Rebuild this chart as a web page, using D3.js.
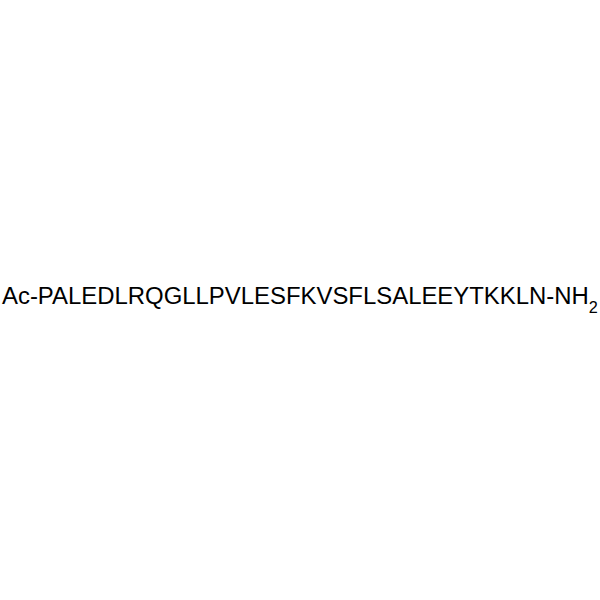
<!DOCTYPE html>
<html lang="en">
<head>
    <meta charset="UTF-8">
    <title>Peptide</title>
    <script src="https://d3js.org/d3.v7.min.js"></script>
    <style>
        body { margin: 0; background: #fff; }
        text { font-family: "Liberation Sans", Arial, sans-serif; fill: #000; }
    </style>
</head>
<body>
    <svg width="600" height="600"></svg>
    <script>
        // sequence parts
        const prefix = ["Ac"];
        const residues = "PALEDLRQGLLPVLESFKVSFLSALEEYTKKLN".split("");
        const suffix = ["NH"];
        const subscript = ["2"];

        const width = 600, height = 600;
        const svg = d3.select("svg");

        const mainText = prefix.join("") + "-" + residues.join("") + "-" + suffix.join("");
        const left = 2, right = 589, baseline = 304;

        // measure at a base size, then fit to the span seen in the picture
        const t = svg.append("text")
            .attr("x", left)
            .attr("y", baseline)
            .style("font-size", "20px");
        const main = t.append("tspan").text(mainText);
        const w20 = main.node().getComputedTextLength();
        const size = 20 * (right - left) / w20;
        t.style("font-size", size + "px");

        t.append("tspan")
            .attr("dy", size * 0.38)
            .style("font-size", (size * 0.68) + "px")
            .text(subscript[0]);
    </script>
</body>
</html>
